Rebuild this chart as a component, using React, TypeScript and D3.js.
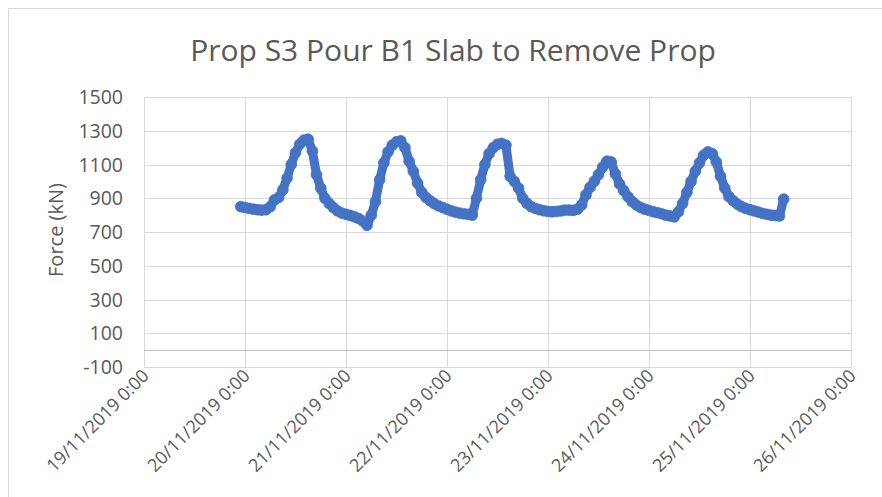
import React from 'react';
import * as d3 from 'd3';

const TITLE = 'Prop S3 Pour B1 Slab to Remove Prop';
const Y_LABEL = 'Force (kN)';
const Y_TICKS = [-100, 100, 300, 500, 700, 900, 1100, 1300, 1500];
const X_TICK_LABELS = [
  '19/11/2019 0:00',
  '20/11/2019 0:00',
  '21/11/2019 0:00',
  '22/11/2019 0:00',
  '23/11/2019 0:00',
  '24/11/2019 0:00',
  '25/11/2019 0:00',
  '26/11/2019 0:00',
];
// hourly readings starting 19/11/2019 23:00
const SERIES_START = new Date(2019, 10, 19, 23, 0, 0);
const FORCE_KN = [
  850, 845, 840, 835, 832, 830, 832, 850, 890, 905, 950, 1020, 1100, 1170, 1220, 1245,
  1250, 1180, 1040, 960, 900, 870, 845, 825, 812, 805, 798, 790, 780, 765, 740, 800,
  880, 1010, 1110, 1175, 1215, 1235, 1240, 1200, 1120, 1060, 990, 935, 905, 885, 868, 855,
  845, 835, 825, 818, 812, 808, 805, 800, 900, 1010, 1100, 1165, 1200, 1220, 1225, 1215,
  1030, 1000, 960, 900, 870, 850, 840, 832, 826, 822, 820, 822, 825, 830, 830, 828,
  835, 860, 920, 965, 1000, 1040, 1085, 1120, 1115, 1045, 985, 945, 910, 880, 860, 845,
  835, 828, 820, 815, 808, 800, 795, 790, 820, 870, 935, 1000, 1060, 1110, 1155, 1175,
  1165, 1115, 1030, 960, 910, 885, 865, 850, 840, 832, 825, 818, 810, 805, 800, 798,
  795, 895,
];

const W = 882;
const H = 497;
const FONT = "'Open Sans', 'Liberation Sans', sans-serif";
const TEXT = '#595959';
const GRID = '#d9d9d9';
const BLUE = '#4472C4';

export default function App() {
  const x = d3
    .scaleTime()
    .domain([new Date(2019, 10, 19), new Date(2019, 10, 26)])
    .range([144, 851]);
  const y = d3.scaleLinear().domain([-100, 1500]).range([367, 97]);
  const days = d3.timeDay.range(new Date(2019, 10, 19), new Date(2019, 10, 26, 1));
  const pts = FORCE_KN.map((v, i) => ({ t: d3.timeHour.offset(SERIES_START, i), v }));
  const line = d3
    .line<{ t: Date; v: number }>()
    .x((d) => x(d.t))
    .y((d) => y(d.v));
  const yGrid = d3.range(-100, 1501, 200);
  const px = (n: number) => Math.round(n) + 0.5;

  return (
    <svg
      width={W}
      height={H}
      style={{ position: 'absolute', left: 0, top: 0, background: '#fff' }}
    >
      <rect x={8.5} y={8.5} width={1200} height={1200} fill="#fff" stroke={GRID} />
      <text
        x={453}
        y={61}
        textAnchor="middle"
        fontFamily={FONT}
        fontSize={30}
        fill={TEXT}
      >
        {TITLE}
      </text>
      {yGrid.map((g) => (
        <line key={'h' + g} x1={144} x2={851} y1={px(y(g))} y2={px(y(g))} stroke={GRID} />
      ))}
      {days.map((d, i) => (
        <line key={'v' + i} x1={px(x(d))} x2={px(x(d))} y1={97} y2={367} stroke={GRID} />
      ))}
      <line x1={144} x2={851} y1={px(y(0))} y2={px(y(0))} stroke="#bfbfbf" />
      {Y_TICKS.map((t) => (
        <text
          key={'yt' + t}
          x={123}
          y={y(t)}
          dy="0.36em"
          textAnchor="end"
          fontFamily={FONT}
          fontSize={19.5}
          fill={TEXT}
        >
          {t}
        </text>
      ))}
      <text
        transform={`translate(63, ${230}) rotate(-90)`}
        textAnchor="middle"
        fontFamily={FONT}
        fontSize={20}
        fill={TEXT}
      >
        {Y_LABEL}
      </text>
      {days.map((d, i) => (
        <text
          key={'xt' + i}
          transform={`translate(${x(d) + 6}, 377) rotate(-45)`}
          textAnchor="end"
          fontFamily={FONT}
          fontSize={18}
          fill={TEXT}
        >
          {X_TICK_LABELS[i]}
        </text>
      ))}
      <path
        d={line(pts) || ''}
        fill="none"
        stroke={BLUE}
        strokeWidth={9}
        strokeLinejoin="round"
        strokeLinecap="round"
      />
      {pts.map((p, i) => (
        <circle key={'c' + i} cx={x(p.t)} cy={y(p.v)} r={5.4} fill={BLUE} stroke={BLUE} strokeWidth={0.8} />
      ))}
    </svg>
  );
}
